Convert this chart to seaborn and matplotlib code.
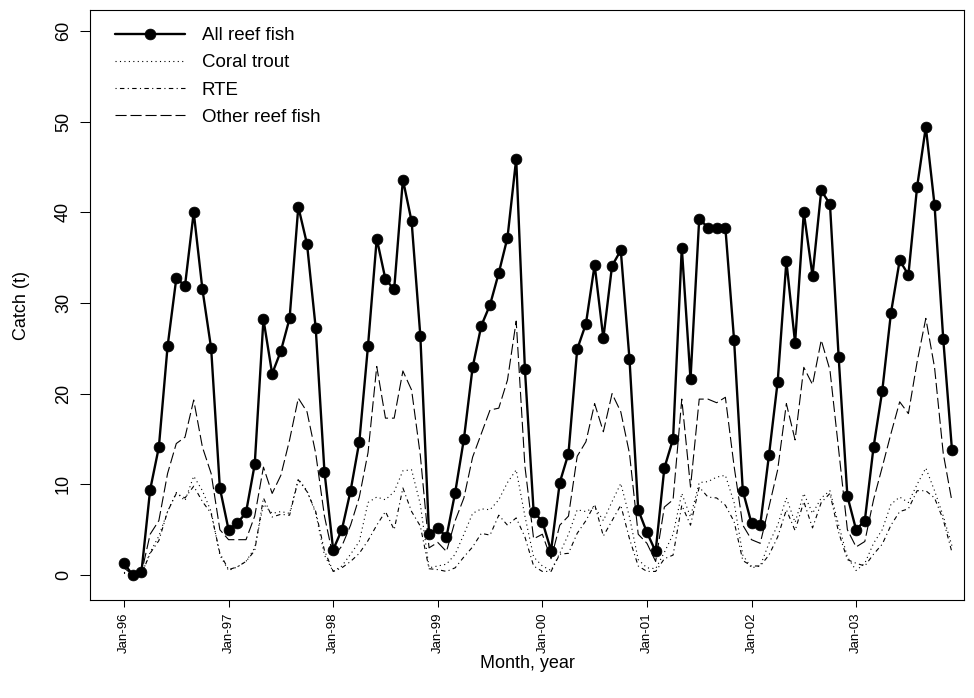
import numpy as np
import pandas as pd
import matplotlib
matplotlib.use("Agg")
import matplotlib.pyplot as plt
import seaborn as sns

# Monthly index: Jan-96 (0) .. Dec-03 (95)
months = list(range(96))
tick_pos = [0, 12, 24, 36, 48, 60, 72, 84]
tick_labels = ["Jan-96", "Jan-97", "Jan-98", "Jan-99", "Jan-00", "Jan-01", "Jan-02", "Jan-03"]
y_ticks = [0, 10, 20, 30, 40, 50, 60]

all_reef = [1.3, 0.0, 0.3, 9.4, 14.1, 25.2, 32.7, 31.9, 40.0, 31.5, 25.0, 9.6,
            5.0, 5.7, 6.9, 12.2, 28.2, 22.2, 24.7, 28.3, 40.6, 36.5, 27.2, 11.4,
            2.8, 5.0, 9.3, 14.7, 25.3, 37.1, 32.6, 31.5, 43.6, 39.0, 26.4, 4.5,
            5.2, 4.2, 9.1, 15.0, 22.9, 27.5, 29.8, 33.3, 37.2, 45.9, 22.7, 7.0,
            5.9, 2.7, 10.2, 13.4, 24.9, 27.7, 34.2, 26.1, 34.1, 35.8, 23.8, 7.2,
            4.7, 2.6, 11.8, 15.0, 36.1, 21.6, 39.3, 38.3, 38.3, 38.3, 25.9, 9.3,
            5.7, 5.5, 13.2, 21.3, 34.6, 25.6, 40.0, 33.0, 42.4, 40.9, 24.0, 8.7,
            5.0, 6.0, 14.1, 20.3, 28.9, 34.7, 33.1, 42.8, 49.4, 40.8, 26.0, 13.8]

coral_trout = [0.3, 0.0, 0.05, 2.5, 4.3, 7.0, 9.1, 8.2, 10.9, 9.3, 7.0, 2.2,
               0.5, 0.9, 1.5, 3.0, 7.8, 6.8, 7.0, 6.8, 10.6, 9.3, 6.8, 2.2,
               0.4, 1.0, 2.3, 3.7, 8.0, 8.6, 8.3, 9.2, 11.5, 11.6, 7.8, 0.8,
               1.0, 1.2, 2.3, 4.5, 6.8, 7.3, 7.2, 8.3, 10.2, 11.6, 6.5, 2.0,
               1.0, 0.5, 2.4, 4.5, 7.2, 7.0, 7.5, 6.0, 8.1, 10.1, 6.4, 1.7,
               0.8, 0.7, 2.5, 4.5, 9.0, 6.4, 10.2, 10.3, 10.8, 11.0, 8.0, 2.2,
               0.8, 1.0, 3.5, 5.5, 8.5, 5.8, 9.0, 6.8, 8.5, 9.3, 5.5, 2.0,
               0.5, 1.3, 3.5, 5.0, 7.8, 8.6, 8.0, 10.0, 11.8, 9.3, 6.5, 3.2]

rte = [0.2, 0.0, 0.05, 2.4, 3.8, 7.0, 9.0, 8.5, 9.8, 8.1, 6.8, 2.4,
       0.6, 0.9, 1.5, 2.7, 8.5, 6.4, 6.7, 6.6, 10.5, 9.2, 7.0, 2.7,
       0.4, 0.8, 1.5, 2.4, 3.8, 5.5, 7.0, 5.0, 9.6, 7.0, 5.4, 0.7,
       0.6, 0.4, 0.8, 2.0, 3.1, 4.6, 4.4, 6.6, 5.5, 6.3, 4.2, 1.0,
       0.4, 0.4, 2.3, 2.4, 4.6, 6.0, 7.8, 4.3, 6.0, 7.7, 4.0, 1.0,
       0.4, 0.4, 1.8, 2.2, 7.7, 5.5, 9.7, 8.6, 8.5, 7.7, 5.9, 1.6,
       1.0, 1.0, 2.2, 4.2, 7.2, 4.9, 8.1, 5.2, 8.0, 9.0, 4.7, 1.7,
       1.3, 1.0, 2.3, 3.4, 5.5, 7.0, 7.3, 9.3, 9.3, 8.5, 6.1, 2.5]

other_reef = [0.8, 0.0, 0.2, 4.5, 6.0, 11.2, 14.5, 15.2, 19.3, 14.1, 11.2, 5.0,
              3.9, 3.9, 3.9, 6.5, 11.9, 9.0, 11.0, 14.9, 19.5, 18.0, 13.4, 6.5,
              2.0, 3.2, 5.5, 8.6, 13.5, 23.0, 17.3, 17.3, 22.5, 20.4, 13.2, 3.0,
              3.6, 2.6, 6.0, 8.5, 13.0, 15.6, 18.2, 18.4, 21.5, 28.0, 12.0, 4.0,
              4.5, 1.8, 5.5, 6.5, 13.1, 14.7, 18.9, 15.8, 20.0, 18.0, 13.4, 4.5,
              3.5, 1.5, 7.5, 8.3, 19.4, 9.7, 19.4, 19.4, 19.0, 19.6, 12.0, 5.5,
              3.9, 3.5, 7.5, 11.6, 18.9, 14.9, 22.9, 21.0, 25.9, 22.6, 13.8, 5.0,
              3.1, 3.7, 8.3, 11.9, 15.6, 19.1, 17.8, 23.5, 28.3, 22.9, 13.4, 8.1]

sns.set_style("white")
plt.rcParams["font.family"] = ["Liberation Sans", "DejaVu Sans"]
plt.rcParams["text.color"] = "black"
plt.rcParams["axes.labelcolor"] = "black"
plt.rcParams["xtick.color"] = "black"
plt.rcParams["ytick.color"] = "black"

fig = plt.figure(figsize=(9.74, 6.98), dpi=100)
ax = fig.add_axes([90 / 974, 98 / 698, 874 / 974, 590 / 698])

thin = 0.8
sns.lineplot(x=months, y=all_reef, ax=ax, color="black", linewidth=1.7,
             marker="o", markersize=7.8, markerfacecolor="black",
             markeredgecolor="black", markeredgewidth=0.5,
             label="All reef fish", estimator=None)
sns.lineplot(x=months, y=coral_trout, ax=ax, color="black", linewidth=thin,
             linestyle=(0, (1, 3)), label="Coral trout", estimator=None)
sns.lineplot(x=months, y=rte, ax=ax, color="black", linewidth=thin,
             linestyle=(0, (1, 3, 4, 3)), label="RTE", estimator=None)
sns.lineplot(x=months, y=other_reef, ax=ax, color="black", linewidth=thin,
             linestyle=(0, (10, 3.5)), label="Other reef fish", estimator=None)

ax.set_xlim(-3.9, 96.38)
ax.set_ylim(-2.75, 62.3)
ax.set_xticks(tick_pos)
ax.set_xticklabels(tick_labels, rotation=90, fontsize=9.5)
ax.set_yticks(y_ticks)
ax.set_yticklabels([str(v) for v in y_ticks], rotation=90, va="center", fontsize=13)

ax.tick_params(axis="y", direction="out", length=7.5, width=0.75, pad=5.5,
               colors="black", left=True)
ax.tick_params(axis="x", direction="out", length=5, width=0.75, pad=4,
               colors="black", bottom=True)

for sp in ax.spines.values():
    sp.set_visible(True)
    sp.set_color("black")
    sp.set_linewidth(0.8)

ax.set_xlabel("Month, year", fontsize=13, color="black")
ax.set_ylabel("Catch (t)", fontsize=13, color="black")
ax.xaxis.set_label_coords(0.5, (600 - 663) / 590)
ax.xaxis.label.set_va("center")
ax.yaxis.set_label_coords((22 - 90) / 874, 0.5)
ax.yaxis.label.set_va("center")

leg = ax.legend(loc="upper left", bbox_to_anchor=(25 / 874, 1 - 17 / 590),
                frameon=False, fontsize=13.5, handlelength=3.73,
                handletextpad=0.9, labelspacing=0.54, borderpad=0,
                borderaxespad=0)
for t in leg.get_texts():
    t.set_color("black")

fig.savefig("out.png", dpi=100)
